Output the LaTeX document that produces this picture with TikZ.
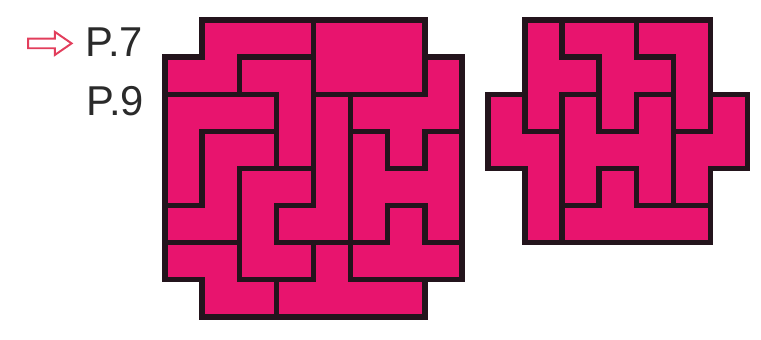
\documentclass[tikz,border=0pt]{standalone}
\usepackage{fontspec}
\setmainfont{Liberation Sans}
\usepackage{tikz}
\usetikzlibrary{positioning}
\definecolor{tilepink}{RGB}{232, 20, 110}
\definecolor{tileedge}{RGB}{35, 20, 28}
\definecolor{pointred}{RGB}{226, 62, 92}
\definecolor{labelgray}{RGB}{42, 42, 42}

\begin{document}
\begin{tikzpicture}[
    x=1cm, y=-1cm,
    piece/.style={fill=tilepink, draw=tileedge, line width=4.2pt, line join=miter},
    pagelabel/.style={font=\fontsize{32}{34}\selectfont, text=labelgray, inner sep=0pt, anchor=base west},
    pointer/.style={draw=pointred, line width=1.5pt, fill=white, line join=miter}
]
    \useasboundingbox (0,0) rectangle (20.51,9.16);

    % Page labels
    \node[pagelabel] (p7) at (2.30,1.53) {P.7};
    \node[pagelabel] (p9) at (2.33,3.10) {P.9};

    % Pointer to the current page
    \draw[pointer] (0.76,1.04) -- (1.48,1.04) -- (1.48,0.86) -- (1.93,1.17)
        -- (1.48,1.48) -- (1.48,1.30) -- (0.76,1.30) -- cycle;

    % Left board (8x8 without corners)
    \begin{scope}[shift={(4.45,0.54)}]
        \draw[piece] (1,0) -- (4,0) -- (4,1) -- (2,1) -- (2,2) -- (0,2) -- (0,1) -- (1,1) -- cycle;
        \draw[piece] (2,1) -- (4,1) -- (4,4) -- (3,4) -- (3,2) -- (2,2) -- cycle;
        \draw[piece] (0,2) -- (3,2) -- (3,3) -- (1,3) -- (1,5) -- (0,5) -- cycle;
        \draw[piece] (1,3) -- (3,3) -- (3,4) -- (2,4) -- (2,6) -- (0,6) -- (0,5) -- (1,5) -- cycle;
        \draw[piece] (2,4) -- (4,4) -- (4,5) -- (3,5) -- (3,6) -- (4,6) -- (4,7) -- (2,7) -- cycle;
        \draw[piece] (4,2) -- (5,2) -- (5,6) -- (3,6) -- (3,5) -- (4,5) -- cycle;
        \draw[piece] (4,0) -- (7,0) -- (7,2) -- (4,2) -- cycle;
        \draw[piece] (7,1) -- (8,1) -- (8,3) -- (7,3) -- (7,4) -- (6,4) -- (6,3) -- (5,3) -- (5,2) -- (7,2) -- cycle;
        \draw[piece] (5,3) -- (6,3) -- (6,4) -- (7,4) -- (7,3) -- (8,3) -- (8,6) -- (7,6) -- (7,5)
            -- (6,5) -- (6,6) -- (5,6) -- cycle;
        \draw[piece] (6,5) -- (7,5) -- (7,6) -- (8,6) -- (8,7) -- (5,7) -- (5,6) -- (6,6) -- cycle;
        \draw[piece] (0,6) -- (2,6) -- (2,7) -- (3,7) -- (3,8) -- (1,8) -- (1,7) -- (0,7) -- cycle;
        \draw[piece] (4,6) -- (5,6) -- (5,7) -- (7,7) -- (7,8) -- (3,8) -- (3,7) -- (4,7) -- cycle;
    \end{scope}

    % Right board (7x6 cross)
    \begin{scope}[shift={(13.15,0.54)}]
        \draw[piece] (1,0) -- (2,0) -- (2,1) -- (3,1) -- (3,2) -- (2,2) -- (2,3) -- (1,3) -- cycle;
        \draw[piece] (2,0) -- (4,0) -- (4,1) -- (5,1) -- (5,2) -- (4,2) -- (4,3) -- (3,3) -- (3,1) -- (2,1) -- cycle;
        \draw[piece] (4,0) -- (6,0) -- (6,3) -- (5,3) -- (5,1) -- (4,1) -- cycle;
        \draw[piece] (0,2) -- (1,2) -- (1,3) -- (2,3) -- (2,6) -- (1,6) -- (1,4) -- (0,4) -- cycle;
        \draw[piece] (6,2) -- (7,2) -- (7,4) -- (6,4) -- (6,5) -- (5,5) -- (5,3) -- (6,3) -- cycle;
        \draw[piece] (2,2) -- (3,2) -- (3,3) -- (4,3) -- (4,2) -- (5,2) -- (5,5) -- (4,5) -- (4,4)
            -- (3,4) -- (3,5) -- (2,5) -- cycle;
        \draw[piece] (3,4) -- (4,4) -- (4,5) -- (6,5) -- (6,6) -- (2,6) -- (2,5) -- (3,5) -- cycle;
    \end{scope}
\end{tikzpicture}
\end{document}
